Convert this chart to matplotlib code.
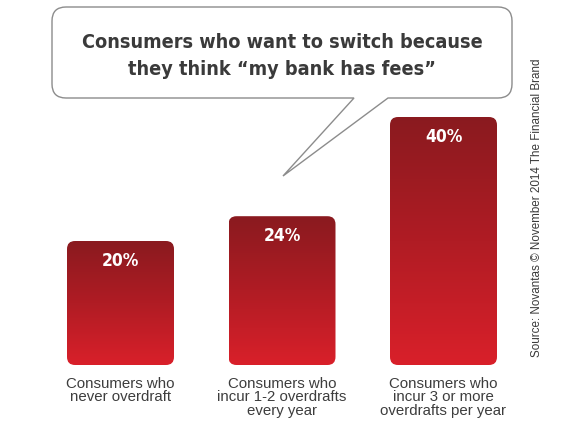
import numpy as np
import matplotlib
matplotlib.use("Agg")
import matplotlib.pyplot as plt
from matplotlib.patches import FancyBboxPatch, PathPatch
from matplotlib.path import Path
from matplotlib.colors import LinearSegmentedColormap
from matplotlib import font_manager

# data
categories = ["Consumers who\nnever overdraft",
              "Consumers who\nincur 1-2 overdrafts\nevery year",
              "Consumers who\nincur 3 or more\noverdrafts per year"]
values = [20, 24, 40]
title_lines = ["Consumers who want to switch because",
               "they think \u201cmy bank has fees\u201d"]
source = "Source: Novantas \u00a9 November 2014 The Financial Brand"

W, H = 565, 422
fig = plt.figure(figsize=(W / 100, H / 100), dpi=100)
fig.patch.set_facecolor("white")

# pick a narrow bold face if one is installed
names = {f.name for f in font_manager.fontManager.ttflist}
cond = [f for f in font_manager.fontManager.ttflist
        if f.name == "DejaVu Sans" and f.stretch == "condensed"]
if "Liberation Sans Narrow" in names:
    narrow = dict(family=["Liberation Sans Narrow", "DejaVu Sans"])
elif cond:
    narrow = dict(family=["DejaVu Sans"], fontstretch="condensed")
else:
    narrow = dict(family=["Roboto", "DejaVu Sans"])
regular = ["Liberation Sans", "DejaVu Sans"]

# overlay in pixel coords for the speech bubble and texts
ov = fig.add_axes([0, 0, 1, 1])
ov.set_xlim(0, W)
ov.set_ylim(H, 0)
ov.axis("off")

# speech bubble with tail
l, r, t, b, rad = 52, 512, 7, 98, 14
verts = [(l + rad, t), (r - rad, t), (r, t), (r, t + rad), (r, b - rad), (r, b), (r - rad, b),
         (388, b), (283, 176), (354, b),
         (l + rad, b), (l, b), (l, b - rad), (l, t + rad), (l, t), (l + rad, t), (l + rad, t)]
codes = [Path.MOVETO, Path.LINETO, Path.CURVE3, Path.CURVE3, Path.LINETO, Path.CURVE3, Path.CURVE3,
         Path.LINETO, Path.LINETO, Path.LINETO,
         Path.LINETO, Path.CURVE3, Path.CURVE3, Path.LINETO, Path.CURVE3, Path.CURVE3, Path.CLOSEPOLY]
ov.add_patch(PathPatch(Path(verts, codes), facecolor="white", edgecolor="#8c8c8c", lw=1.0))

ov.text(282, 48, title_lines[0], ha="center", va="baseline", fontsize=14.2,
        fontweight="bold", color="#3a3a3a", **narrow)
ov.text(282, 75, title_lines[1], ha="center", va="baseline", fontsize=14.2,
        fontweight="bold", color="#3a3a3a", **narrow)

ov.text(537, 208, source, rotation=90, ha="center", va="center", fontsize=8.4,
        color="#3a3a3a", family=regular)

# bar axes
ax = fig.add_axes([39.75 / W, 57 / H, 484.5 / W, 279 / H])
ax.set_facecolor("none")
x = np.arange(len(values))
bars = ax.bar(x, values, width=0.6625, color="none", edgecolor="none")
ax.set_xlim(-0.5, 2.5)
ax.set_ylim(0, 45)

pxx = 484.5 / 3
pxy = 279 / 45
rs = 8 / pxx
cmap = LinearSegmentedColormap.from_list("red", ["#d9202a", "#b01c24", "#8a1a1f"])
grad = np.linspace(0, 1, 256).reshape(-1, 1)

for bar, v in zip(bars, values):
    x0, w, h = bar.get_x(), bar.get_width(), bar.get_height()
    clip = FancyBboxPatch((x0, 0), w, h, boxstyle=f"round,pad=0,rounding_size={rs}",
                          mutation_aspect=pxx / pxy, facecolor="none", edgecolor="none",
                          transform=ax.transData)
    ax.add_patch(clip)
    im = ax.imshow(grad, extent=[x0, x0 + w, 0, h], origin="lower", cmap=cmap,
                   aspect="auto", interpolation="bilinear")
    im.set_clip_path(clip)
    ax.annotate(f"{v}%", (x0 + w / 2, h), xytext=(0, -8), textcoords="offset points",
                ha="center", va="top", color="white", fontsize=12.5, fontweight="bold",
                **narrow)

ax.set_xlim(-0.5, 2.5)
ax.set_ylim(0, 45)
ax.set_yticks([])
ax.set_xticks(x)
ax.set_xticklabels(categories, fontsize=10.8, color="#3d3d3d", family=regular, linespacing=0.95)
ax.tick_params(axis="x", length=0, pad=8.5)
for s in ax.spines.values():
    s.set_visible(False)

fig.savefig("out.png", dpi=100, facecolor="white")
